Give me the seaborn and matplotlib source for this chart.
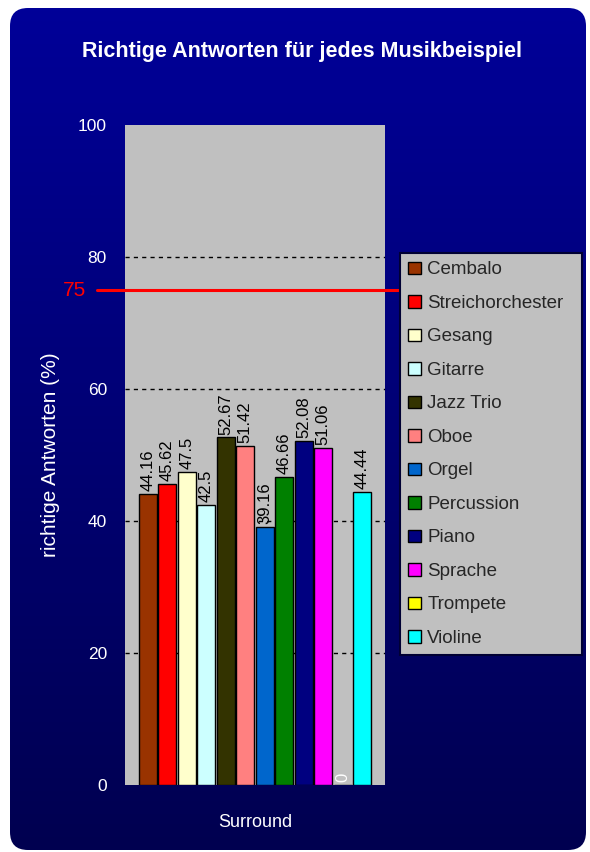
import numpy as np
import pandas as pd
import matplotlib.pyplot as plt
import matplotlib.transforms as mtransforms
from matplotlib.patches import FancyBboxPatch, Patch
import seaborn as sns

# data
instruments = ["Cembalo", "Streichorchester", "Gesang", "Gitarre", "Jazz Trio", "Oboe",
               "Orgel", "Percussion", "Piano", "Sprache", "Trompete", "Violine"]
values = [44.16, 45.62, 47.5, 42.5, 52.67, 51.42, 39.16, 46.66, 52.08, 51.06, 0, 44.44]
value_labels = ["44.16", "45.62", "47.5", "42.5", "52.67", "51.42", "39.16", "46.66",
                "52.08", "51.06", "0", "44.44"]
colors = ["#993300", "#FF0000", "#FFFFCC", "#CCFFFF", "#333300", "#FF8080",
          "#0066CC", "#008000", "#000080", "#FF00FF", "#FFFF00", "#00FFFF"]
group = "Surround"
target = 75
yticks = [0, 20, 40, 60, 80, 100]

df = pd.DataFrame({"group": [group] * len(instruments), "instrument": instruments, "value": values})

sns.set_style("white")
plt.rcParams["font.family"] = ["Liberation Sans", "DejaVu Sans"]

fig = plt.figure(figsize=(5.9, 8.52), dpi=100)
fig.patch.set_facecolor("white")

# rounded dark blue background with vertical gradient
bg = fig.add_axes([0, 0, 1, 1], zorder=-10)
bg.axis("off")
grad = np.linspace(0, 1, 256).reshape(-1, 1)
cmap = sns.blend_palette(["#000098", "#000050"], as_cmap=True)
im = bg.imshow(grad, cmap=cmap, extent=[10, 586, 850, 8], aspect="auto")
box = FancyBboxPatch((10, 8), 576, 842, boxstyle="round,pad=0,rounding_size=18",
                     transform=bg.transData, facecolor="none", edgecolor="none")
bg.add_patch(box)
im.set_clip_path(box)
bg.set_xlim(0, 590)
bg.set_ylim(852, 0)

ax = fig.add_axes([125 / 590, 1 - 785 / 852, 260 / 590, 660 / 852])
ax.set_facecolor("#C0C0C0")
sns.barplot(data=df, x="group", y="value", hue="instrument", hue_order=instruments,
            palette=colors, width=0.9, gap=0.08, edgecolor="black", linewidth=1,
            saturation=1, legend=False, ax=ax)
ax.set_xlim(-0.5, 0.5)
ax.set_ylim(0, 100)
ax.set_yticks(yticks)
ax.set_yticklabels([str(t) for t in yticks], color="white", fontsize=12.5)
ax.tick_params(axis="y", length=0, pad=13)
ax.set_xticks([0])
ax.set_xticklabels([group], color="white", fontsize=13)
ax.tick_params(axis="x", length=0, pad=21)
ax.set_xlabel("")
ax.set_ylabel("richtige Antworten (%)", color="white", fontsize=15, labelpad=13)
for y in yticks[1:-1]:
    ax.axhline(y, color="black", linestyle=(0, (3, 3)), linewidth=1, zorder=0.5)
for s in ax.spines.values():
    s.set_visible(False)

for cont, lab in zip(ax.containers, value_labels):
    c = "white" if lab == "0" else "black"
    ax.bar_label(cont, labels=[lab], rotation=90, padding=2, fontsize=12, color=c)

# 75% reference line
trans = mtransforms.blended_transform_factory(fig.transFigure, ax.transData)
ax.plot([97 / 590, 0.985], [target, target], color="#FF0000", linewidth=2.2,
        transform=trans, clip_on=False, zorder=5)
ax.text(86 / 590, target, str(target), color="#FF0000", fontsize=15, ha="right",
        va="center", transform=trans)

fig.text(0.512, 1 - 52 / 852, "Richtige Antworten für jedes Musikbeispiel", color="white",
         fontsize=15.5, fontweight="bold", ha="center", va="center")

handles = [Patch(facecolor=c, edgecolor="black", linewidth=1) for c in colors]
leg = fig.legend(handles, instruments, loc="upper left",
                 bbox_to_anchor=(400 / 590, 1 - 253 / 852 - 0.01, 182 / 590, 0.01), mode="expand",
                 fontsize=13.5, frameon=True, fancybox=False, handlelength=0.65, handleheight=0.65,
                 handletextpad=0.35, labelspacing=0.88, borderpad=0.45, borderaxespad=0)
leg.get_frame().set_facecolor("#C0C0C0")
leg.get_frame().set_edgecolor("#000033")
leg.get_frame().set_linewidth(1.5)
leg.get_frame().set_alpha(1)

fig.savefig("out.png", dpi=100)
